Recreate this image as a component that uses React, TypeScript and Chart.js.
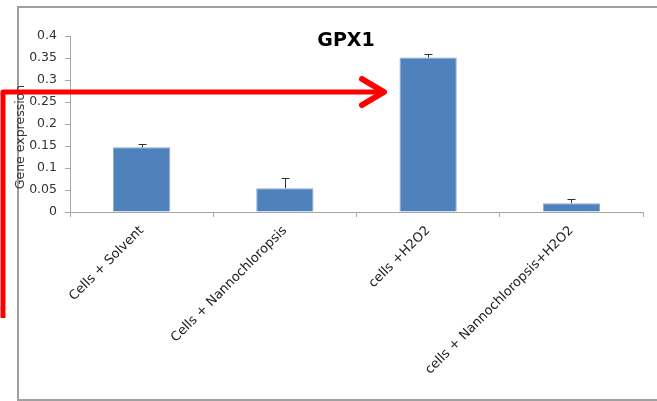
import React, { useEffect, useRef } from "react";
import { Chart, registerables } from "chart.js";

Chart.register(...registerables);

const categories = [
  "Cells + Solvent",
  "Cells + Nannochloropsis",
  "cells +H2O2",
  "cells + Nannochloropsis+H2O2",
];
const values = [0.147, 0.054, 0.351, 0.02];
const errors = [0.007, 0.023, 0.008, 0.01];
const yTicksMax = 0.4;
const yStep = 0.05;
const chartTitle = "GPX1";
const yTitle = "Gene expression";

const FONT = "'DejaVu Sans', 'Open Sans', sans-serif";

const errorBarPlugin = {
  id: "errorBars",
  afterDatasetsDraw(chart: any) {
    const ctx = chart.ctx;
    const meta = chart.getDatasetMeta(0);
    const y = chart.scales.y;
    ctx.save();
    ctx.strokeStyle = "#303030";
    ctx.lineWidth = 1;
    meta.data.forEach((bar: any, i: number) => {
      const x = Math.round(bar.x) + 0.5;
      const y0 = y.getPixelForValue(values[i]);
      const y1 = Math.round(y.getPixelForValue(values[i] + errors[i])) + 0.5;
      ctx.beginPath();
      ctx.moveTo(x, y0);
      ctx.lineTo(x, y1);
      ctx.moveTo(x - 4, y1);
      ctx.lineTo(x + 4, y1);
      ctx.stroke();
    });
    ctx.restore();
  },
};

const textPlugin = {
  id: "texts",
  afterDraw(chart: any) {
    const ctx = chart.ctx;
    ctx.save();
    ctx.fillStyle = "#000";
    ctx.font = `bold 19px ${FONT}`;
    ctx.textAlign = "center";
    ctx.textBaseline = "middle";
    ctx.fillText(chartTitle, 346, 41);
    ctx.fillStyle = "#333";
    ctx.font = `12.5px ${FONT}`;
    ctx.translate(21, 137);
    ctx.rotate(-Math.PI / 2);
    ctx.fillText(yTitle, 0, 0);
    ctx.restore();
  },
};

export default function App() {
  const ref = useRef<HTMLCanvasElement>(null);
  useEffect(() => {
    const prevMargin = document.body.style.margin;
    document.body.style.margin = "0";
    const chart = new Chart(ref.current as HTMLCanvasElement, {
      type: "bar",
      data: {
        labels: categories,
        datasets: [
          {
            data: values,
            backgroundColor: "#4f81bd",
            borderColor: "#8eaad6",
            borderWidth: 1,
            barPercentage: 0.4,
            categoryPercentage: 1,
          },
        ],
      },
      options: {
        animation: false,
        responsive: false,
        layout: { padding: { left: 0, top: 36, right: 14, bottom: 0 } },
        plugins: {
          legend: { display: false },
          tooltip: { enabled: false },
          title: { display: false },
        },
        scales: {
          x: {
            afterFit: (s: any) => {
              s.height = 189;
            },
            grid: {
              display: true,
              drawOnChartArea: false,
              drawTicks: true,
              tickLength: 5,
              color: "#a6a6a6",
              offset: true,
            },
            border: { color: "#a6a6a6", width: 1 },
            ticks: {
              minRotation: 45,
              maxRotation: 45,
              padding: 6,
              color: "#222",
              font: { family: FONT, size: 13 },
              autoSkip: false,
            },
          },
          y: {
            min: 0,
            max: yTicksMax,
            afterFit: (s: any) => {
              s.width = 70;
            },
            grid: {
              display: true,
              drawOnChartArea: false,
              drawTicks: true,
              tickLength: 5,
              color: "#a6a6a6",
            },
            border: { color: "#a6a6a6", width: 1 },
            ticks: {
              stepSize: yStep,
              padding: 8,
              color: "#333",
              font: { family: FONT, size: 12.5 },
              callback: (v: any) => String(Number(Number(v).toFixed(2))),
            },
          },
        },
      },
      plugins: [errorBarPlugin, textPlugin],
    });
    return () => {
      chart.destroy();
      document.body.style.margin = prevMargin;
    };
  }, []);

  return (
    <div
      style={{
        position: "fixed",
        left: 0,
        top: 0,
        width: 657,
        height: 401,
        overflow: "hidden",
        background: "#fff",
      }}
    >
      <div
        style={{
          position: "absolute",
          left: 17,
          top: 6,
          width: 700,
          height: 395,
          border: "2px solid #a0a0a0",
          boxSizing: "border-box",
        }}
      />
      <canvas
        ref={ref}
        width={657}
        height={401}
        style={{ position: "absolute", left: 0, top: 0, width: 657, height: 401 }}
      />
      <svg
        width={657}
        height={401}
        style={{ position: "absolute", left: 0, top: 0, pointerEvents: "none" }}
      >
        <g stroke="#ff0000" strokeWidth={6} fill="none" strokeLinejoin="round">
          <polyline points="3,318 3,92 382,92" strokeWidth={5} />
          <polyline points="362,79 384,92 362,105" strokeLinecap="round" />
        </g>
      </svg>
    </div>
  );
}
